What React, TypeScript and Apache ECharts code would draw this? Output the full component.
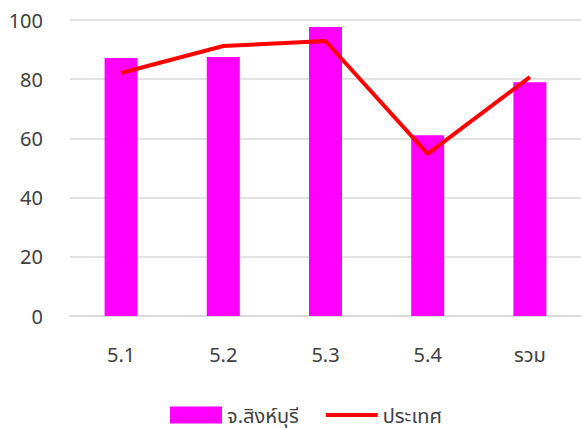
import React, { useEffect, useRef } from "react";
import * as echarts from "echarts";

const categories = ["5.1", "5.2", "5.3", "5.4", "รวม"];
const provinceValues = [87.2, 87.5, 97.6, 61.1, 79.0];
const countryValues = [82.1, 91.2, 92.9, 54.8, 80.7];
const seriesNames = ["จ.สิงห์บุรี", "ประเทศ"];

const FONT = "'Noto Sans', 'Noto Sans Thai', Tahoma, sans-serif";

export default function App() {
  const ref = useRef<HTMLDivElement>(null);
  useEffect(() => {
    if (!ref.current) return;
    const chart = echarts.init(ref.current, undefined, { renderer: "svg" });
    chart.setOption({
      animation: false,
      backgroundColor: "#ffffff",
      textStyle: { fontFamily: FONT },
      grid: { left: 70, top: 20, width: 514, height: 296 },
      legend: {
        left: 165,
        top: 400,
        itemWidth: 52,
        itemHeight: 17,
        itemGap: 25,
        textStyle: { fontSize: 20, color: "#404040", fontFamily: FONT },
        data: [
          { name: seriesNames[0], icon: "rect" },
          { name: seriesNames[1], itemStyle: { opacity: 0 }, lineStyle: { width: 4, color: "#ff0000", opacity: 1 } },
        ],
      },
      xAxis: {
        type: "category",
        data: categories,
        axisLine: { lineStyle: { color: "#d9d9d9", width: 1.5 } },
        axisTick: { show: false },
        axisLabel: { fontSize: 20, color: "#404040", margin: 28, fontFamily: FONT },
      },
      yAxis: {
        type: "value",
        min: 0,
        max: 100,
        interval: 20,
        axisLine: { show: false },
        axisTick: { show: false },
        splitLine: { lineStyle: { color: "#d9d9d9", width: 1.5 } },
        axisLabel: { fontSize: 20, color: "#404040", margin: 27, fontFamily: FONT },
      },
      series: [
        {
          name: seriesNames[0],
          type: "bar",
          data: provinceValues,
          barWidth: 33,
          itemStyle: { color: "#ff00ff" },
        },
        {
          name: seriesNames[1],
          type: "line",
          data: countryValues,
          symbol: "none",
          lineStyle: { color: "#ff0000", width: 4 },
          itemStyle: { color: "#ff0000" },
        },
      ],
    });
    return () => chart.dispose();
  }, []);
  return <div ref={ref} style={{ width: 581, height: 428, position: "absolute", left: 0, top: 0 }} />;
}
